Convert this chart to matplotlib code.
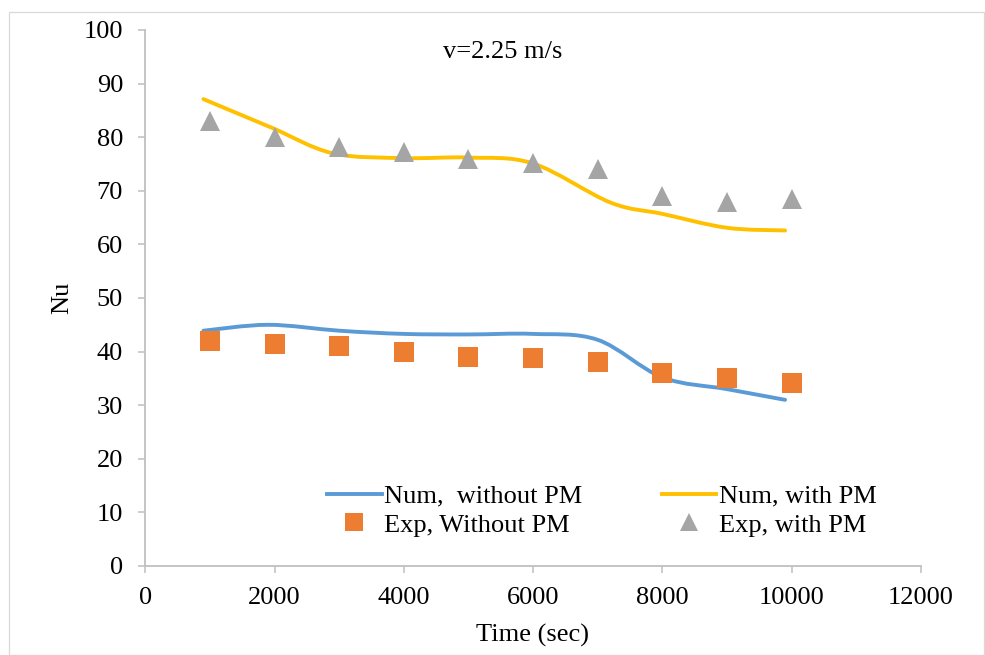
import numpy as np
import matplotlib
matplotlib.use("Agg")
import matplotlib.pyplot as plt
from matplotlib.path import Path
from matplotlib.patches import PathPatch, Rectangle
from matplotlib.lines import Line2D

plt.rcParams['font.family'] = ['Liberation Serif', 'DejaVu Serif']
plt.rcParams['font.size'] = 19

# numerical results (smoothed curves through these knots)
num_x = [900, 1950, 2900, 4000, 5000, 6000, 7200, 8000, 9000, 9900]
num_with_pm = [87.1, 81.8, 77.0, 76.1, 76.2, 75.1, 67.8, 65.7, 63.1, 62.6]

num_x_nopm = [900, 1900, 3000, 4000, 5000, 6000, 7000, 8000, 9000, 9900]
num_without_pm = [43.9, 45.0, 43.9, 43.3, 43.2, 43.3, 42.2, 35.2, 33.0, 31.0]

# experiments
exp_x = [1000, 2000, 3000, 4000, 5000, 6000, 7000, 8000, 9000, 10000]
exp_without_pm = [42.0, 41.5, 41.0, 40.0, 39.0, 38.8, 38.0, 36.1, 35.0, 34.1]
exp_with_pm = [83.0, 80.0, 78.1, 77.3, 76.0, 75.2, 74.1, 69.1, 68.0, 68.5]

BLUE = '#5b9bd5'
ORANGE = '#ed7d31'
GRAY = '#a5a5a5'
YELLOW = '#ffc000'
AXIS_GRAY = '#bfbfbf'


def smooth_path(xs, ys):
    # Catmull-Rom style bezier through the knots (spreadsheet "smoothed line")
    pts = np.column_stack([xs, ys]).astype(float)
    n = len(pts)
    verts = [pts[0]]
    codes = [Path.MOVETO]
    for i in range(n - 1):
        p0 = pts[max(i - 1, 0)]
        p1 = pts[i]
        p2 = pts[i + 1]
        p3 = pts[min(i + 2, n - 1)]
        verts += [p1 + (p2 - p0) / 6.0, p2 - (p3 - p1) / 6.0, p2]
        codes += [Path.CURVE4] * 3
    return Path(verts, codes)


fig = plt.figure(figsize=(9.85, 6.55), dpi=100)
ax = fig.add_axes([145.3 / 985, 89 / 655, 775.5 / 985, 536 / 655])

lw = 2.8
ax.add_patch(PathPatch(smooth_path(num_x_nopm, num_without_pm), facecolor='none',
                       edgecolor=BLUE, lw=lw, capstyle='round', zorder=2))
ax.add_patch(PathPatch(smooth_path(num_x, num_with_pm), facecolor='none',
                       edgecolor=YELLOW, lw=lw, capstyle='round', zorder=2))

sq, = ax.plot(exp_x, exp_without_pm, linestyle='none', marker='s', markersize=14.4,
              color=ORANGE, markeredgewidth=0, zorder=3)
tri, = ax.plot(exp_x, exp_with_pm, linestyle='none', marker='^', markersize=14.4,
               color=GRAY, markeredgewidth=0, zorder=3)

ax.set_xlim(0, 12000)
ax.set_ylim(0, 100)
ax.set_xticks(np.arange(0, 12001, 2000))
ax.set_yticks(np.arange(0, 101, 10))

for side in ['top', 'right']:
    ax.spines[side].set_visible(False)
for side in ['left', 'bottom']:
    ax.spines[side].set_color(AXIS_GRAY)
    ax.spines[side].set_linewidth(1.3)
ax.tick_params(axis='both', direction='out', length=5, width=1.1, color=AXIS_GRAY,
               labelcolor='black', labelsize=19)
ax.tick_params(axis='y', pad=11)
ax.tick_params(axis='x', pad=10)

ax.set_xlabel('Time (sec)', fontsize=19)
ax.set_ylabel('Nu', fontsize=19)
ax.xaxis.set_label_coords(0.4987, -0.129)
ax.xaxis.label.set_va('center')
ax.yaxis.set_label_coords(-0.1075, 0.5)
ax.yaxis.label.set_va('center')

ax.text(0.4613, 0.9478, 'v=2.25 m/s', transform=ax.transAxes, ha='center',
        va='baseline', fontsize=19)

handles = [Line2D([], [], color=BLUE, lw=lw), sq,
           Line2D([], [], color=YELLOW, lw=lw), tri]
labels = ['Num,  without PM', 'Exp, Without PM', 'Num, with PM', 'Exp, with PM']
fig.legend(handles, labels, ncol=2, loc='center', bbox_to_anchor=(602 / 985, 1 - 510.5 / 655),
           frameon=False, fontsize=19, handlelength=2.05, handletextpad=0.11,
           columnspacing=3.0, labelspacing=0.2, borderpad=0, borderaxespad=0,
           markerscale=0.88)

# light frame round the whole chart area
fig.patches.append(Rectangle((8.5 / 985, 1 - 654.5 / 655), 975 / 985, 643 / 655,
                             transform=fig.transFigure, fill=False,
                             edgecolor='#d9d9d9', lw=0.9, zorder=0))

fig.savefig('out.png', dpi=100)
